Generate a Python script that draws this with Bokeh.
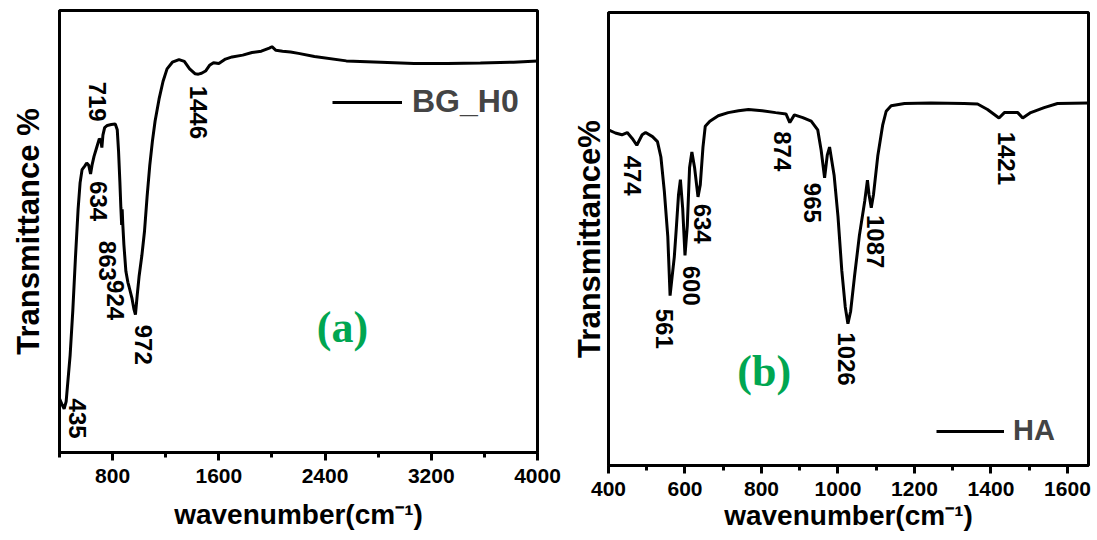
import math
from bokeh.plotting import figure
from bokeh.models import Range1d, FixedTicker, Legend, LegendItem, Label, ColumnDataSource
from bokeh.layouts import row, column
from bokeh.core.properties import value
from bokeh.embed import file_html
from bokeh.resources import INLINE

# ---------------- data: panel (a) BG_H0 ----------------
bg_wn = [400, 420, 435, 450, 460, 480, 500, 520, 540, 555, 570, 590, 605, 620, 634, 645, 660, 680,
         700, 712, 719, 727, 740, 760, 790, 820, 835, 845, 855, 862, 868, 872, 876, 885, 900, 915,
         924, 945, 960, 972, 985, 1000, 1020, 1040, 1060, 1080, 1100, 1120, 1150, 1180, 1210, 1250,
         1300, 1340, 1380, 1420, 1446, 1470, 1500, 1530, 1560, 1600, 1650, 1700, 1780, 1850, 1920,
         1980, 2000, 2030, 2080, 2140, 2200, 2320, 2560, 2820, 3070, 3320, 3570, 3820, 4000]
bg_t = [12.2, 10.8, 9.9, 11.5, 15.0, 22.0, 32.0, 44.0, 55.0, 61.0, 64.0, 64.8, 65.5, 65.0, 63.0, 65.0,
        67.0, 69.0, 71.0, 70.5, 69.0, 71.8, 73.5, 74.0, 74.2, 74.3, 73.0, 68.0, 61.0, 55.5, 51.5, 55.0,
        52.0, 47.0, 41.0, 38.5, 37.5, 35.0, 32.5, 31.2, 35.5, 40.0, 44.5, 50.0, 58.0, 65.0, 70.5, 75.0,
        80.0, 84.0, 86.8, 88.3, 88.9, 88.5, 86.8, 85.7, 85.6, 85.8, 86.3, 87.6, 88.2, 88.0, 89.0, 89.5,
        89.9, 90.5, 90.8, 91.5, 91.8, 91.0, 90.8, 90.6, 90.3, 89.6, 88.6, 88.3, 88.0, 88.0, 88.1, 88.3, 88.6]
bg_labels = ["435", "719", "634", "863", "924", "972", "1446"]
bg_lab_x = [535, 686, 696, 759, 822, 1030, 1447]
bg_lab_y = [12.2, 83.9, 61.4, 47.9, 39.0, 28.9, 83.0]
bg_ticks = [800, 1600, 2400, 3200, 4000]
bg_minor = [400, 1200, 2000, 2800, 3600]

# ---------------- data: panel (b) HA ----------------
ha_wn = [400, 418, 435, 449, 462, 474, 488, 497, 515, 528, 537, 546, 555, 561, 566, 572, 577, 583,
         588, 594, 600, 606, 612, 618, 625, 634, 640, 647, 653, 665, 687, 713, 740, 766, 802, 837,
         864, 874, 886, 908, 930, 947, 956, 965, 972, 978, 990, 1000, 1010, 1019, 1026, 1033, 1043,
         1056, 1070, 1077, 1081, 1087, 1093, 1104, 1117, 1126, 1139, 1174, 1243, 1330, 1365, 1391,
         1421, 1435, 1470, 1483, 1504, 1539, 1574, 1655]
ha_t = [74.1, 73.4, 73.0, 73.5, 72.2, 70.7, 73.0, 73.5, 72.6, 71.5, 68.1, 60.5, 50.6, 37.5, 41.4, 46.0,
        52.0, 59.7, 63.1, 56.7, 46.4, 52.9, 65.8, 69.2, 65.8, 59.3, 62.0, 70.3, 74.9, 76.0, 77.2, 77.9,
        78.3, 78.6, 78.3, 77.9, 77.6, 75.7, 77.4, 76.8, 76.0, 74.1, 69.6, 63.5, 68.5, 70.3, 64.0, 55.0,
        43.0, 35.0, 31.3, 34.0, 41.6, 50.8, 58.4, 63.0, 59.9, 56.9, 59.9, 68.3, 75.2, 78.2, 79.4, 79.9,
        80.0, 79.9, 79.8, 78.6, 76.7, 77.9, 77.9, 76.7, 77.9, 79.0, 79.9, 80.0]
ha_labels = ["474", "561", "600", "634", "874", "965", "1087", "1026", "1421"]
ha_lab_x = [464, 547, 617, 647, 856, 934, 1097, 1023, 1440]
ha_lab_y = [68.4, 34.6, 44.1, 57.8, 73.8, 62.4, 55.3, 29.4, 73.7]
ha_ticks = [400, 600, 800, 1000, 1200, 1400, 1600]
ha_minor = [500, 700, 900, 1100, 1300, 1500]

FONT = "Liberation Sans"


def style(p, ticks, minor, ylab, ylab_standoff, xlab_standoff, tick_standoff):
    p.outline_line_color = "black"
    p.outline_line_width = 3
    p.xgrid.visible = False
    p.ygrid.visible = False
    p.background_fill_color = "white"
    p.border_fill_color = "white"
    xa = p.xaxis[0]
    xa.ticker = FixedTicker(ticks=ticks, minor_ticks=minor)
    xa.axis_line_width = 3
    xa.major_tick_line_width = 3
    xa.minor_tick_line_width = 3
    xa.major_tick_out = 8
    xa.major_tick_in = 0
    xa.minor_tick_out = 5
    xa.minor_tick_in = 0
    xa.major_label_text_font = FONT
    xa.major_label_text_font_style = "bold"
    xa.major_label_text_font_size = "21px"
    xa.major_label_text_color = "black"
    xa.major_label_standoff = tick_standoff
    xa.axis_label = "wavenumber(cm\u207b\u00b9)"
    xa.axis_label_text_font = FONT
    xa.axis_label_text_font_style = "bold"
    xa.axis_label_text_font_size = "28px"
    xa.axis_label_text_color = "black"
    xa.axis_label_standoff = xlab_standoff
    ya = p.yaxis[0]
    ya.ticker = FixedTicker(ticks=[])
    ya.axis_line_width = 3
    ya.major_tick_line_color = None
    ya.minor_tick_line_color = None
    ya.major_label_text_font_size = "0px"
    ya.axis_label = ylab
    ya.axis_label_text_font = FONT
    ya.axis_label_text_font_style = "bold"
    ya.axis_label_text_font_size = "31px"
    ya.axis_label_text_color = "black"
    ya.axis_label_standoff = ylab_standoff


# ---------------- panel (a) ----------------
p1 = figure(width=568, height=538, min_border_left=59, min_border_right=31,
            min_border_top=10, min_border_bottom=86, x_range=Range1d(400, 4000), y_range=Range1d(0, 100),
            output_backend="svg", toolbar_location=None)
style(p1, bg_ticks, bg_minor, "Transmittance %", 14, 13, 8)
r1 = p1.line(bg_wn, bg_t, line_color="black", line_width=3)
s1 = ColumnDataSource(dict(x=bg_lab_x, y=bg_lab_y, t=bg_labels))
p1.text(x="x", y="y", text="t", source=s1, angle=-math.pi / 2, text_align="left", text_baseline="middle",
        text_font=value(FONT), text_font_style="bold", text_font_size="24px", text_color="black")
p1.add_layout(Label(x=2531, y=28.3, text="(a)", text_align="center", text_baseline="middle",
                    text_font="Liberation Serif", text_font_style="bold", text_font_size="44px",
                    text_color="#00a651"))
leg1 = Legend(items=[LegendItem(label="BG_H0", renderers=[r1])], location=(273, 332),
              glyph_width=70, glyph_height=30, label_standoff=10, padding=0, margin=0, spacing=0,
              label_text_font=FONT, label_text_font_style="bold", label_text_font_size="32px",
              border_line_alpha=0, background_fill_alpha=0)
p1.add_layout(leg1)

# ---------------- panel (b) ----------------
p2 = figure(width=528, height=538, min_border_left=39, min_border_right=8,
            min_border_top=12, min_border_bottom=73, x_range=Range1d(400, 1655), y_range=Range1d(0, 100),
            output_backend="svg", toolbar_location=None)
style(p2, ha_ticks, ha_minor, "Transmittance%", 2, 1, 8)
r2 = p2.line(ha_wn, ha_t, line_color="black", line_width=3)
s2 = ColumnDataSource(dict(x=ha_lab_x, y=ha_lab_y, t=ha_labels))
p2.text(x="x", y="y", text="t", source=s2, angle=-math.pi / 2, text_align="left", text_baseline="middle",
        text_font=value(FONT), text_font_style="bold", text_font_size="24px", text_color="black")
p2.add_layout(Label(x=807, y=20.8, text="(b)", text_align="center", text_baseline="middle",
                    text_font="Liberation Serif", text_font_style="bold", text_font_size="44px",
                    text_color="#00a651"))
leg2 = Legend(items=[LegendItem(label="HA", renderers=[r2])], location=(328, 18),
              glyph_width=68, glyph_height=30, label_standoff=9, padding=0, margin=0, spacing=0,
              label_text_font=FONT, label_text_font_style="bold", label_text_font_size="29px",
              border_line_alpha=0, background_fill_alpha=0)
p2.add_layout(leg2)

# nest each panel so that the row does not force their frames into alignment
layout = row(column(p1), column(p2))
open("out.html", "w").write(file_html(layout, INLINE))
